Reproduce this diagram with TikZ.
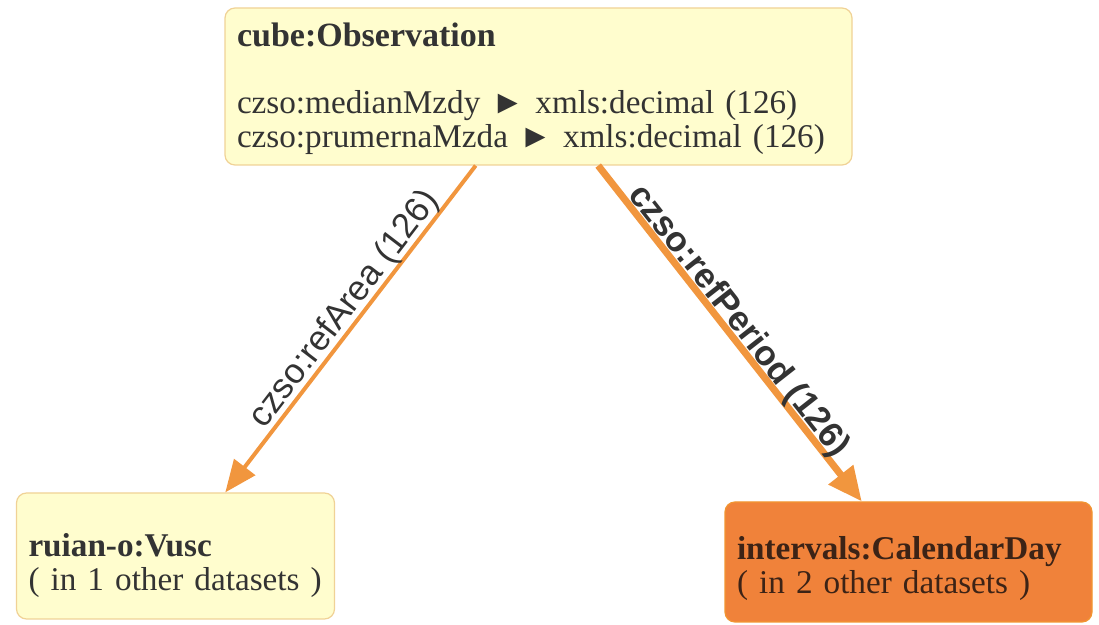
\documentclass[tikz,border=0pt]{standalone}
\usepackage{fontspec}
\setmainfont{Liberation Serif}
\setsansfont{Liberation Sans}
\usepackage{tikz}
\usetikzlibrary{positioning, arrows.meta, calc}

\definecolor{boxfill}{RGB}{255,253,206}
\definecolor{boxline}{RGB}{240,210,150}
\definecolor{edgeorange}{RGB}{241,150,62}
\definecolor{dayfill}{RGB}{240,130,58}
\definecolor{boxtext}{RGB}{51,51,51}
\definecolor{daytext}{RGB}{60,35,22}

\begin{document}
\begin{tikzpicture}[
        x = 0.5pt, y = -0.5pt,
        every node/.style = {
            align = left,
            font = \fontsize{16.6}{17}\selectfont,
            text = boxtext
        },
        classbox/.style = {
            draw = boxline,
            fill = boxfill,
            rounded corners = 5pt,
            line width = 0.6pt,
            inner xsep = 6pt,
            inner ysep = 0pt
        },
        external/.style = {
            draw = dayfill!85!yellow,
            fill = dayfill,
            text = daytext
        },
        link/.style = {
            draw = edgeorange,
            line width = 2pt,
            -{Triangle[length = 16pt, width = 13pt]}
        },
        linklabel/.style = {
            sloped,
            inner sep = 0pt,
            font = \sffamily\fontsize{17.5}{17.5}\selectfont,
            text = boxtext
        }
    ]
        \useasboundingbox (0,0) rectangle (1099,625);

        \node[classbox, text width = 301.5pt, minimum height = 78.5pt] (obs) at (538.5,86.5) {
            \rule{0pt}{14pt}\textbf{\fontsize{17}{17}\selectfont cube:Observation}\\[16.5pt]
            \mbox{czso:medianMzdy ► xmls:decimal (126)}\\
            \mbox{czso:prumernaMzda ► xmls:decimal (126)}
        };
        \node[classbox, text width = 147pt, minimum height = 63pt] (vusc) at (175.5,556) {
            \rule{0pt}{21pt}\textbf{ruian-o:Vusc}\\
            \mbox{( in 1 other datasets )}
        };
        \node[classbox, external, text width = 171.5pt, minimum height = 60pt] (day) at (908.5,562) {
            \rule{0pt}{18pt}\textbf{intervals:CalendarDay}\\
            \mbox{( in 2 other datasets )}
        };

        \draw[link] ($(obs.south west)!0.4!(obs.south east)$) --
            node[linklabel, above = -1pt, pos = 0.47] {czso:refArea (126)}
            ($(vusc.north west)!0.656!(vusc.north east)$);
        \draw[link, line width = 3.5pt, -{Triangle[length = 17pt, width = 15pt]}]
            ($(obs.south west)!0.595!(obs.south east)$) --
            node[linklabel, above = -3pt, pos = 0.49, font = \sffamily\bfseries\fontsize{17.5}{17.5}\selectfont] {czso:refPeriod (126)}
            ($(day.north west)!0.373!(day.north east)$);
    \end{tikzpicture}
\end{document}
